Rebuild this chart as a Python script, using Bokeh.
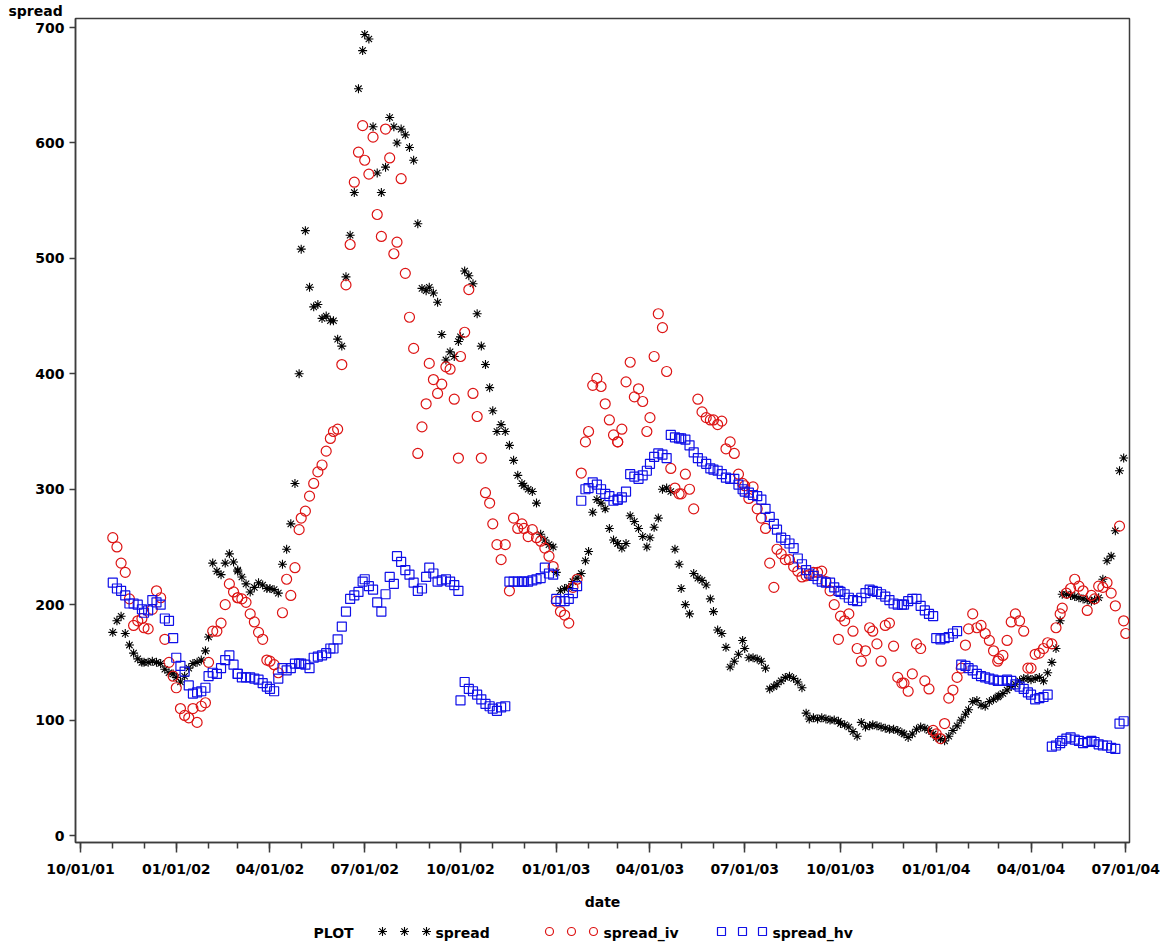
import pandas as pd
from bokeh.plotting import figure
from bokeh.models import ColumnDataSource, Range1d, FixedTicker, DatetimeTickFormatter
from bokeh.layouts import column
from bokeh.embed import file_html
from bokeh.resources import INLINE
from bokeh.core.properties import value

# ---------------- data ----------------
MONTHS = pd.date_range("2001-11-01", "2004-07-01", freq="MS")   # one row per month below
OBS_DAYS = [1, 5, 9, 13, 17, 21, 25, 29]                        # observation days within each month

X_TICKS = ["2001-10-01", "2002-01-01", "2002-04-01", "2002-07-01", "2002-10-01", "2003-01-01",
           "2003-04-01", "2003-07-01", "2003-10-01", "2004-01-01", "2004-04-01", "2004-07-01"]
Y_TICKS = [0, 100, 200, 300, 400, 500, 600, 700]

spread = [
    176, 186, 190, 175, 165, 158, 153, 150,   # 2001-11
    150, 150, 151, 150, 149, 144, 141, 140,   # 2001-12
    137, 133, 138, 145, 149, 150, 152, 160,   # 2002-01
    172, 236, 229, 226, 236, 244, 237, 230,   # 2002-02
    229, 224, 218, 211, 215, 219, 217, 214,   # 2002-03
    214, 213, 210, 235, 248, 270, 305, 400,   # 2002-04
    508, 524, 475, 458, 460, 448, 450, 446,   # 2002-05
    446, 430, 424, 484, 520, 557, 647, 680,   # 2002-06
    694, 690, 614, 574, 557, 579, 622, 614,   # 2002-07
    600, 612, 607, 596, 585, 530, 474, 472,   # 2002-08
    475, 470, 462, 434, 412, 419, 415, 428,   # 2002-09
    432, 489, 485, 478, 452, 424, 408, 388,   # 2002-10
    368, 350, 356, 350, 338, 325, 312, 305,   # 2002-11
    303, 300, 298, 288, 261, 256, 252, 250,   # 2002-12
    228, 212, 214, 215, 220, 223, 227, 238,   # 2003-01
    246, 280, 291, 288, 283, 266, 256, 253,   # 2003-02
    253, 249, 253, 277, 272, 266, 259, 250,   # 2003-03
    258, 267, 275, 300, 301, 298, 248, 235,   # 2003-04
    214, 200, 192, 227, 223, 221, 217, 205,   # 2003-05
    194, 178, 175, 163, 146, 151, 157, 169,   # 2003-06
    162, 154, 154, 153, 151, 145, 127, 129,   # 2003-07
    131, 134, 137, 138, 136, 133, 128, 106,   # 2003-08
    101, 102, 101, 102, 101, 100, 100, 99,    # 2003-09
    97, 96, 94, 90, 86, 98, 94, 95,           # 2003-10
    96, 95, 94, 93, 92, 92, 91, 89,           # 2003-11
    88, 85, 88, 92, 94, 93, 91, 88,           # 2003-12
    85, 84, 82, 86, 91, 95, 100, 105,         # 2004-01
    109, 116, 117, 113, 112, 116, 118, 120,   # 2004-02
    121, 123, 126, 129, 131, 134, 136, 136,   # 2004-03
    135, 136, 137, 134, 141, 150, 162, 186,   # 2004-04
    209, 209, 208, 207, 206, 205, 204, 203,   # 2004-05
    204, 206, 222, 238, 242, 264, 316, 327,   # 2004-06
    None, None, None, None, None, None, None, None,  # 2004-07
]

spread_iv = [
    258, 250, 236, 228, 205, 182, 186, 188,   # 2001-11
    180, 179, 196, 212, 206, 170, 150, 138,   # 2001-12
    128, 110, 104, 102, 110, 98, 112, 115,    # 2002-01
    150, 177, 177, 184, 200, 218, 211, 206,   # 2002-02
    206, 205, 202, 192, 185, 176, 170, 152,   # 2002-03
    151, 148, 141, 193, 222, 208, 232, 265,   # 2002-04
    275, 281, 294, 305, 315, 321, 333, 344,   # 2002-05
    350, 352, 408, 477, 512, 566, 592, 615,   # 2002-06
    585, 573, 605, 538, 519, 612, 587, 504,   # 2002-07
    514, 569, 487, 449, 422, 331, 354, 374,   # 2002-08
    409, 395, 383, 391, 406, 404, 378, 327,   # 2002-09
    415, 436, 473, 383, 363, 327, 297, 288,   # 2002-10
    270, 252, 239, 252, 212, 275, 266, 270,   # 2002-11
    266, 259, 265, 258, 255, 249, 242, 233,   # 2002-12
    203, 194, 191, 184, 215, 222, 314, 341,   # 2003-01
    350, 390, 396, 389, 374, 360, 347, 341,   # 2003-02
    341, 352, 393, 410, 380, 387, 376, 350,   # 2003-03
    362, 415, 452, 440, 402, 318, 301, 296,   # 2003-04
    296, 313, 300, 283, 378, 367, 362, 360,   # 2003-05
    360, 356, 359, 335, 341, 331, 313, 305,   # 2003-06
    303, 292, 302, 283, 275, 266, 236, 215,   # 2003-07
    248, 244, 239, 239, 233, 229, 224, 225,   # 2003-08
    226, 228, 228, 229, 220, 212, 200, 170,   # 2003-09
    190, 186, 192, 177, 162, 151, 160, 180,   # 2003-10
    177, 166, 151, 182, 184, 164, 137, 132,   # 2003-11
    132, 125, 140, 166, 162, 134, 127, 91,    # 2003-12
    88, 84, 97, 119, 126, 137, 145, 165,      # 2004-01
    179, 192, 180, 182, 175, 169, 160, 151,   # 2004-02
    153, 156, 169, 185, 192, 186, 177, 145,   # 2004-03
    145, 157, 158, 162, 167, 166, 180, 192,   # 2004-04
    197, 210, 214, 222, 216, 212, 195, 208,   # 2004-05
    205, 216, 215, 219, 210, 199, 268, 186,   # 2004-06
    175, None, None, None, None, None, None, None,  # 2004-07
]

spread_hv = [
    219, 214, 212, 208, 201, 201, 200, 196,   # 2001-11
    193, 195, 204, 202, 200, 188, 186, 171,   # 2001-12
    154, 147, 142, 130, 123, 124, 125, 128,   # 2002-01
    138, 141, 140, 145, 152, 156, 148, 140,   # 2002-02
    140, 137, 137, 137, 136, 135, 132, 129,   # 2002-03
    127, 125, 136, 145, 143, 145, 149, 149,   # 2002-04
    149, 148, 145, 154, 155, 156, 158, 162,   # 2002-05
    162, 170, 181, 194, 205, 208, 211, 220,   # 2002-06
    222, 216, 213, 202, 194, 209, 224, 218,   # 2002-07
    242, 237, 230, 226, 219, 212, 214, 224,   # 2002-08
    232, 227, 220, 221, 222, 220, 217, 212,   # 2002-09
    117, 133, 127, 125, 122, 118, 114, 112,   # 2002-10
    110, 108, 111, 112, 220, 220, 220, 220,   # 2002-11
    220, 220, 221, 222, 223, 232, 227, 226,   # 2002-12
    205, 203, 203, 205, 210, 216, 290, 300,   # 2003-01
    301, 306, 304, 300, 296, 294, 290, 291,   # 2003-02
    291, 293, 298, 313, 311, 309, 312, 316,   # 2003-03
    322, 328, 331, 330, 327, 347, 345, 344,   # 2003-04
    344, 343, 338, 332, 327, 324, 322, 318,   # 2003-05
    317, 316, 313, 310, 309, 309, 304, 300,   # 2003-06
    298, 297, 295, 294, 291, 283, 276, 270,   # 2003-07
    265, 258, 256, 253, 249, 240, 235, 230,   # 2003-08
    227, 225, 222, 220, 219, 219, 215, 212,   # 2003-09
    211, 209, 206, 204, 203, 206, 210, 213,   # 2003-10
    212, 211, 209, 207, 204, 201, 200, 200,   # 2003-11
    200, 203, 205, 205, 199, 195, 192, 190,   # 2003-12
    171, 170, 171, 172, 175, 177, 148, 147,   # 2004-01
    145, 143, 140, 138, 137, 136, 135, 134,   # 2004-02
    134, 134, 135, 134, 131, 129, 127, 124,   # 2004-03
    122, 118, 119, 120, 122, 77, 78, 80,      # 2004-04
    82, 84, 85, 83, 82, 80, 81, 82,           # 2004-05
    81, 79, 78, 78, 76, 75, 97, 99,           # 2004-06
    None, None, None, None, None, None, None, None,  # 2004-07
]

# ---------------- build ----------------
dates = [m + pd.Timedelta(days=d - 1) for m in MONTHS for d in OBS_DAYS]
for s in (spread, spread_iv, spread_hv):
    assert len(s) == len(dates), (len(s), len(dates))


def make_source(vals):
    xs = [dt for dt, v in zip(dates, vals) if v is not None]
    ys = [v for v in vals if v is not None]
    return ColumnDataSource(dict(x=xs, y=ys))


def ms(ts):
    return pd.Timestamp(ts).value // 10**6


FONT = value("DejaVu Sans")
FRAME = "#3c3c3c"
RED = "#dd1414"
BLUE = "#1010e8"

x_start = pd.Timestamp("2001-10-01") - pd.Timedelta(days=4.8)
x_end = pd.Timestamp("2004-07-01") + pd.Timedelta(days=3.6)
y_start, y_end = -6.05, 707.8

# page layout (content appears at the page's top-left corner)
FL, FR, FT, FB = 75, 1129, 16, 842      # frame edges in page pixels
W, H = 1167, 914

p = figure(width=W, height=H, x_axis_type="datetime",
           x_range=Range1d(ms(x_start), ms(x_end)), y_range=Range1d(y_start, y_end),
           output_backend="svg", toolbar_location=None, title="spread",
           min_border_left=FL, min_border_right=W - FR, min_border_top=0,
           min_border_bottom=H - FB)
p.title.text_font = "DejaVu Sans"
p.title.text_font_style = "bold"
p.title.text_font_size = "14px"
p.title.text_color = "black"
p.title.align = "left"
p.title.offset = -(FL - 8)
p.title.standoff = 0
p.xgrid.visible = False
p.ygrid.visible = False
p.outline_line_color = FRAME
p.outline_line_width = 1.5
p.background_fill_color = "white"
p.border_fill_color = "white"

p.scatter("x", "y", source=make_source(spread), marker="asterisk", size=9,
          line_color="black", line_width=1.1)
p.scatter("x", "y", source=make_source(spread_iv), marker="circle", size=10,
          fill_color=None, line_color=RED, line_width=1.2)
p.scatter("x", "y", source=make_source(spread_hv), marker="square", size=9,
          fill_color=None, line_color=BLUE, line_width=1.2)

minor = [ms(t) for t in pd.date_range("2001-10-01", "2004-07-01", freq="MS")]
xa = p.xaxis[0]
xa.ticker = FixedTicker(ticks=[ms(t) for t in X_TICKS], minor_ticks=minor)
fmt = "%m/%d/%y"
xa.formatter = DatetimeTickFormatter(days=fmt, months=fmt, years=fmt, hours=fmt,
                                     hourmin=fmt, minutes=fmt, context=None)
ya = p.yaxis[0]
ya.ticker = FixedTicker(ticks=Y_TICKS, minor_ticks=[])

for ax in (xa, ya):
    ax.axis_line_color = FRAME
    ax.axis_line_width = 1.5
    ax.major_tick_line_color = FRAME
    ax.major_tick_line_width = 1.5
    ax.minor_tick_line_color = FRAME
    ax.minor_tick_line_width = 1.5
    ax.major_tick_in = 0
    ax.minor_tick_in = 0
    ax.major_label_text_font = "DejaVu Sans"
    ax.major_label_text_font_style = "bold"
    ax.major_label_text_font_size = "14px"
    ax.major_label_text_color = "black"

xa.major_tick_out = 10
xa.minor_tick_out = 6
xa.major_label_standoff = 8
xa.axis_label = "date"
xa.axis_label_text_font = "DejaVu Sans"
xa.axis_label_text_font_style = "bold"
xa.axis_label_text_font_size = "14px"
xa.axis_label_text_color = "black"
xa.axis_label_standoff = 14

ya.major_tick_out = 6
ya.minor_tick_out = 0
ya.major_label_standoff = 5

# ---------------- legend row (its frame is aligned with the plot frame) ----------------
LH = 943 - H
lg = figure(width=W, height=LH, x_range=Range1d(FL, FR), y_range=Range1d(0, LH),
            output_backend="svg", toolbar_location=None,
            x_axis_location=None, y_axis_location=None,
            min_border_left=FL, min_border_right=W - FR, min_border_top=0, min_border_bottom=0)
lg.xgrid.visible = False
lg.ygrid.visible = False
lg.outline_line_color = None
lg.background_fill_color = "white"
lg.border_fill_color = "white"
ly = LH - (932 - H)
lg.text(x=[313, 435, 603, 772], y=[ly] * 4,
        text=["PLOT", "spread", "spread_iv", "spread_hv"],
        text_font=FONT, text_font_style="bold", text_font_size="14px",
        text_color="black", text_baseline="middle", text_align="left")
lg.scatter(x=[382, 404, 426], y=[ly + 1] * 3, marker="asterisk", size=9,
           line_color="black", line_width=1.1)
lg.scatter(x=[549, 571, 593], y=[ly + 1] * 3, marker="circle", size=8,
           fill_color=None, line_color=RED, line_width=1.2)
lg.scatter(x=[721, 742, 762], y=[ly + 1] * 3, marker="square", size=8,
           fill_color=None, line_color=BLUE, line_width=1.2)

layout = column(p, lg, spacing=0)
open("out.html", "w").write(file_html(layout, INLINE))
